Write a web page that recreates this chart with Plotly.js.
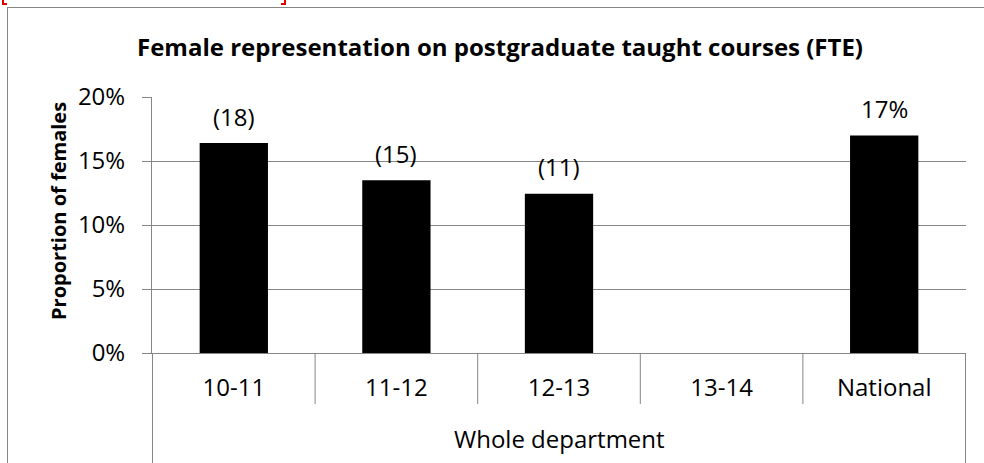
<!DOCTYPE html>
<html>
<head>
<meta charset="utf-8">
<script src="https://cdn.plot.ly/plotly-3.0.1.min.js"></script>
<style>
  html, body { margin: 0; padding: 0; background: #fff; }
  #wrap { position: relative; width: 984px; height: 463px; overflow: hidden; }
  #chart { position: absolute; left: 0; top: 0; width: 984px; height: 463px; }
  #frame { position: absolute; left: 7px; top: 7px; width: 1000px; height: 500px; border: 1px solid #868686; pointer-events: none; }
  .brk { position: absolute; border-bottom: 2px solid #e00000; height: 3px; top: 0; width: 3px; pointer-events: none; }
</style>
</head>
<body>
<div id="wrap">
  <div id="chart"></div>
  <div id="frame"></div>
  <div class="brk" style="left:2px; border-left:2px solid #e00000;"></div>
  <div class="brk" style="left:281px; border-right:2px solid #e00000;"></div>
</div>
<script>
// ---- data ----
var categories = ["10-11", "11-12", "12-13", "13-14", "National"];
var groupLabel = "Whole department";
var proportions = [0.164, 0.135, 0.1245, null, 0.17];
var barLabels = ["(18)", "(15)", "(11)", "", "17%"];
var yTickVals = [0, 0.05, 0.10, 0.15, 0.20];
var titleText = "Female representation on postgraduate taught courses (FTE)";
var yTitleText = "Proportion of females";

var FONT = "'Open Sans', sans-serif";
var GRID = "#868686";
var FS = 24;

var trace = {
  type: "bar",
  x: categories,
  y: proportions,
  marker: { color: "#000000", line: { width: 0 } },
  hoverinfo: "skip"
};

var annotations = [];
for (var i = 0; i < categories.length; i++) {
  if (proportions[i] !== null && barLabels[i]) {
    annotations.push({
      x: categories[i], y: proportions[i], xref: "x", yref: "y",
      text: barLabels[i], showarrow: false,
      yanchor: "middle", yshift: 27,
      font: { family: FONT, size: FS, color: "#000" }
    });
  }
}
annotations.push({
  x: 0.5, y: 0, xref: "paper", yref: "paper",
  text: groupLabel, showarrow: false,
  yanchor: "middle", yshift: -85,
  font: { family: FONT, size: FS, color: "#000" }
});
// y-axis title
annotations.push({
  x: 0, y: 0.5, xref: "paper", yref: "paper",
  text: yTitleText, showarrow: false, textangle: -90,
  xanchor: "center", yanchor: "middle", xshift: -94, yshift: 14,
  font: { family: FONT, size: 20, color: "#000", weight: "bold" }
});

var plotH = 256;
var shapes = [];
for (var j = 0; j <= categories.length; j++) {
  var outer = (j === 0 || j === categories.length);
  shapes.push({
    type: "line", xref: "x", yref: "paper",
    x0: j - 0.5, x1: j - 0.5,
    y0: 0, y1: outer ? -110 / plotH : -51 / plotH,
    line: { color: GRID, width: 1 }
  });
}

var layout = {
  width: 984, height: 463,
  margin: { l: 152, r: 18, t: 97, b: 110, pad: 0 },
  paper_bgcolor: "rgba(0,0,0,0)",
  plot_bgcolor: "rgba(0,0,0,0)",
  showlegend: false,
  bargap: 0.58,
  font: { family: FONT, size: FS, color: "#000" },
  title: {
    text: titleText,
    font: { family: FONT, size: 24, color: "#000", weight: "bold" },
    x: 500 / 984, xref: "container", xanchor: "center",
    y: 1 - 48 / 463, yref: "container", yanchor: "middle"
  },
  xaxis: {
    type: "category",
    showgrid: false,
    showline: true, linecolor: GRID, linewidth: 1,
    ticks: "",
    ticklabelstandoff: 13,
    tickfont: { family: FONT, size: FS, color: "#000" },
    automargin: false,
    fixedrange: true
  },
  yaxis: {
    range: [0, 0.20],
    tickvals: yTickVals,
    tickformat: ".0%",
    showgrid: true, gridcolor: GRID, gridwidth: 1,
    zeroline: false,
    showline: true, linecolor: GRID, linewidth: 1,
    ticks: "outside", ticklen: 9, tickcolor: GRID, tickwidth: 1,
    ticklabelstandoff: 12,
    tickfont: { family: FONT, size: FS, color: "#000" },
    automargin: false,
    fixedrange: true
  },
  shapes: shapes,
  annotations: annotations
};

Plotly.newPlot("chart", [trace], layout, { displayModeBar: false, staticPlot: true });
</script>
</body>
</html>
